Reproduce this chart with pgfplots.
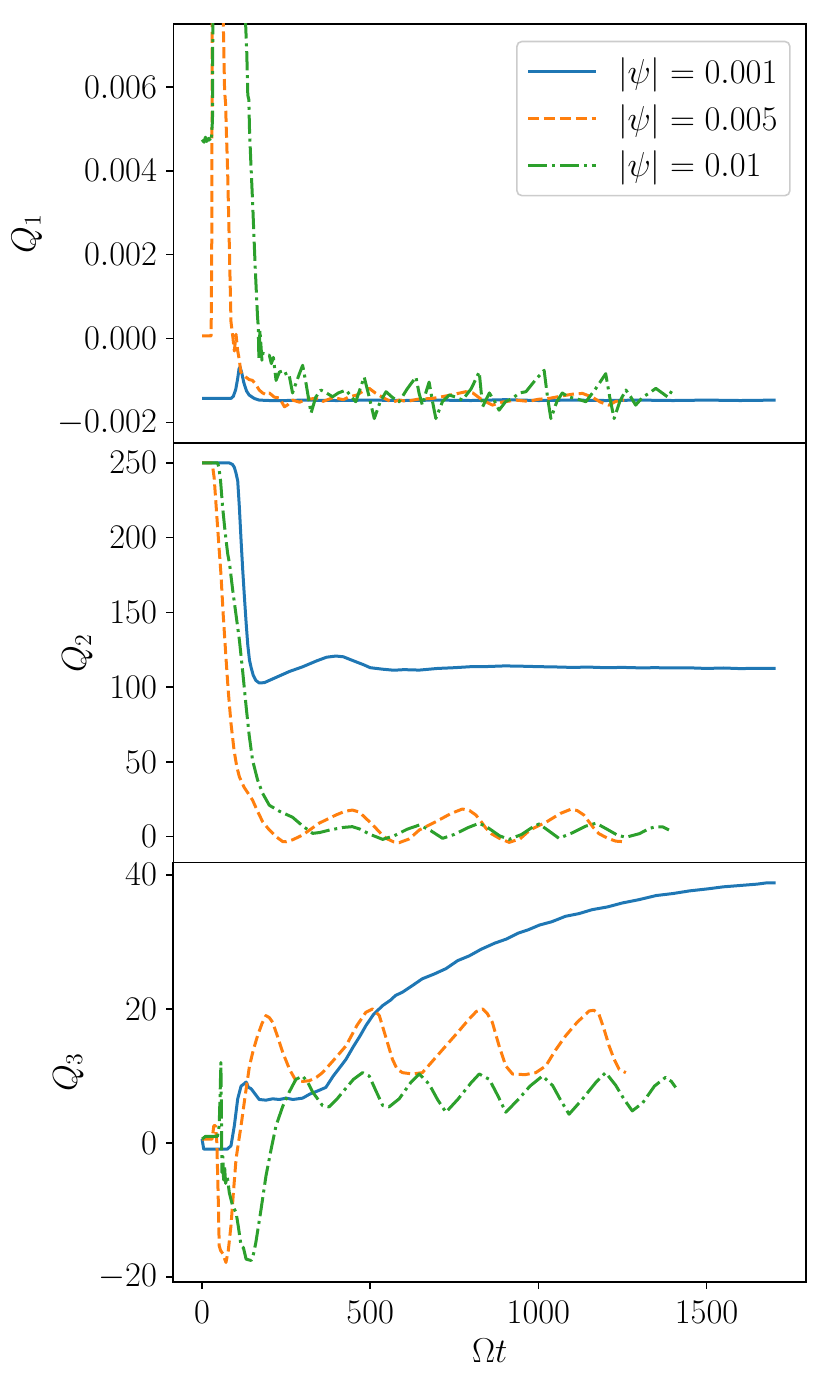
\documentclass[border=0pt]{standalone}
\usepackage{pgfplots}
\pgfplotsset{compat=1.18}
\definecolor{tabblue}{HTML}{1F77B4}
\definecolor{taborange}{HTML}{FF7F0E}
\definecolor{tabgreen}{HTML}{2CA02C}
\pgfplotsset{
  panel/.style={
    scale only axis, width=316.35pt, height=209.65pt,
    xmin=-85.5, xmax=1795.5,
    axis line style={line width=0.8pt},
    every tick/.style={line width=0.8pt, black},
    major tick length=3.5pt, tick align=outside,
    ytick pos=left, xtick pos=bottom,
    ticklabel style={font=\fontsize{16}{19}\selectfont},
    yticklabel style={anchor=east, inner xsep=0pt, xshift=-4.5pt},
    xticklabel style={anchor=base, yshift=-17.5pt, /pgf/number format/set thousands separator={}},
    scaled y ticks=false,
    every axis plot/.append style={line width=1.5pt, line join=round},
    every axis x label/.style={at={(axis description cs:0.5,0)}, anchor=base, yshift=-40.5pt, font=\fontsize{18}{22}\selectfont},
  },
  s1/.style={tabblue, solid},
  s2/.style={taborange, dash pattern=on 5.55pt off 2.4pt},
  s3/.style={tabgreen, dash pattern=on 9.6pt off 2.4pt on 1.5pt off 2.4pt},
}
\begin{document}
\begin{tikzpicture}
\useasboundingbox (0,0) rectangle (415.5pt,693.5pt);
% ---------------- Q1 ----------------
\begin{axis}[panel, at={(86.65pt,471.85pt)}, anchor=south west,
  ymin=-0.0025, ymax=0.0075, xtick=\empty,
  ytick={-0.002,0,0.002,0.004,0.006},
  yticklabel style={/pgf/number format/.cd, fixed, fixed zerofill, precision=3},
  every axis y label/.style={at={(axis description cs:-0.2312,0.5)}, rotate=90, anchor=center, font=\fontsize{18}{22}\selectfont},
  ylabel={$Q_1$},
  legend style={at={(1,1)}, anchor=north east, xshift=-7.65pt, yshift=-8.35pt,
    draw=black!20, line width=0.8pt, rounded corners=2.5pt, fill=white,
    font=\fontsize{16}{19}\selectfont, inner xsep=0.75pt, inner ysep=5pt,
    row sep=2.85pt, nodes={inner xsep=5.5pt, inner ysep=3pt}},
  legend cell align=left,
  legend image code/.code={\path (0pt,0pt); \draw[#1, line width=1.5pt] (4.1pt,0pt) -- (38.1pt,0pt); \path (42.85pt,0pt);},
]
\addplot[s1] coordinates {(0,-0.00143)(40,-0.00143)(86,-0.00143)(93,-0.00138)(100,-0.00122)(106,-0.00095)(110,-0.00072)(113,-0.00068)(118,-0.00082)(124,-0.00105)(132,-0.00125)(140,-0.00135)(155,-0.00143)(170,-0.00147)(200,-0.00148)(250,-0.00148)(300,-0.00147)(400,-0.00148)(500,-0.00147)(600,-0.00148)(700,-0.00147)(800,-0.00148)(900,-0.00146)(1000,-0.00148)(1100,-0.00147)(1200,-0.00148)(1300,-0.00147)(1400,-0.00148)(1500,-0.00147)(1600,-0.00148)(1705,-0.00147)};
\addlegendentry{$|\psi| = 0.001$}
\addplot[s2] coordinates {(0,0.00006)(27,0.00006)(29,0.0025)(31,0.012)(60,0.012)(63,0.0076)(67,0.0059)(70,0.0056)(72,0.0050)(76,0.0040)(80,0.0026)(86,0.0004)(92,0.0)(96,-0.0003)(101,0.0001)(106,-0.0003)(111,-0.00052)(115,-0.0008)(122,-0.00085)(130,-0.00092)(140,-0.00098)(150,-0.001)(160,-0.0011)(170,-0.00123)(180,-0.0013)(190,-0.00134)(200,-0.0013)(215,-0.0014)(230,-0.00142)(245,-0.00163)(255,-0.00158)(269,-0.00147)(290,-0.00152)(310,-0.00145)(339,-0.00143)(360,-0.0015)(390,-0.00141)(420,-0.00146)(438,-0.00139)(460,-0.00135)(480,-0.00125)(497,-0.00119)(515,-0.0013)(540,-0.00142)(565,-0.00152)(586,-0.00147)(610,-0.0015)(640,-0.00145)(685,-0.00143)(720,-0.00138)(750,-0.00133)(784,-0.00127)(805,-0.0013)(830,-0.00145)(863,-0.00159)(890,-0.00152)(933,-0.00147)(970,-0.0015)(1000,-0.00145)(1032,-0.00143)(1070,-0.00137)(1100,-0.00133)(1131,-0.00131)(1160,-0.0014)(1185,-0.00152)(1210,-0.00159)(1230,-0.0015)(1255,-0.00147)};
\addlegendentry{$|\psi| = 0.005$}
\addplot[s3] coordinates {(0,0.00474)(6,0.00468)(10,0.00480)(14,0.00470)(20,0.00477)(27,0.00470)(31,0.0052)(34,0.012)(124,0.012)(129,0.0076)(133,0.0068)(136,0.0058)(139,0.0057)(141,0.0050)(145,0.0042)(150,0.0033)(154,0.0025)(158,0.0017)(162,0.0010)(165,0.0005)(167,0.0003)(169,-0.0005)(172,0.0002)(178,-0.00052)(181,-0.00035)(190,-0.0004)(200,-0.0004)(206,-0.0006)(212,-0.00045)(220,-0.001)(230,-0.0008)(245,-0.00076)(252,-0.0009)(259,-0.00088)(269,-0.0013)(279,-0.00107)(289,-0.00085)(299,-0.00064)(309,-0.00107)(324,-0.00178)(338,-0.0014)(353,-0.00123)(370,-0.0013)(388,-0.00139)(405,-0.0013)(428,-0.00123)(445,-0.0014)(457,-0.00151)(470,-0.0012)(482,-0.00092)(497,-0.0014)(512,-0.00191)(530,-0.0015)(547,-0.00127)(565,-0.0014)(586,-0.00151)(610,-0.0012)(636,-0.00092)(645,-0.0013)(655,-0.00159)(665,-0.0013)(675,-0.00104)(685,-0.0015)(695,-0.00191)(715,-0.0015)(735,-0.00135)(755,-0.0014)(774,-0.00147)(800,-0.0012)(824,-0.0008)(834,-0.00163)(854,-0.0013)(870,-0.0015)(883,-0.00171)(903,-0.0015)(923,-0.00143)(943,-0.0013)(963,-0.00127)(990,-0.001)(1017,-0.00076)(1027,-0.0014)(1037,-0.00191)(1055,-0.0015)(1071,-0.0013)(1090,-0.0014)(1111,-0.00143)(1141,-0.00151)(1170,-0.0012)(1200,-0.00084)(1212,-0.0014)(1225,-0.00191)(1242,-0.0015)(1260,-0.00123)(1275,-0.0014)(1289,-0.00159)(1310,-0.0014)(1330,-0.0013)(1349,-0.00119)(1368,-0.0013)(1385,-0.0014)(1398,-0.00123)};
\addlegendentry{$|\psi| = 0.01$}
\end{axis}
% ---------------- Q2 ----------------
\begin{axis}[panel, at={(86.65pt,262.15pt)}, anchor=south west,
  ymin=-17.4, ymax=263, xtick=\empty,
  ytick={0,50,100,150,200,250},
  every axis y label/.style={at={(axis description cs:-0.1514,0.5)}, rotate=90, anchor=center, font=\fontsize{18}{22}\selectfont},
  ylabel={$Q_2$},
]
\addplot[s1] coordinates {(0,250)(60,250)(80,250)(90,249)(96,247)(101,243)(106,238)(111,220)(116,198)(121,178)(126,160)(131,143)(136,128)(141,118)(146,113)(152,108)(160,104.5)(170,102.8)(185,103)(200,104.5)(230,107.5)(260,110.5)(299,113.6)(340,117.5)(370,120)(398,120.8)(420,120.3)(440,118.5)(457,117)(480,115)(500,113)(537,112)(570,111.3)(600,111.7)(646,111.4)(700,112.5)(750,113)(800,113.7)(850,113.8)(900,114.2)(950,114)(1000,113.7)(1050,113.5)(1100,113.2)(1150,113.4)(1200,113)(1250,113.2)(1300,112.9)(1350,113)(1400,112.8)(1450,112.9)(1500,112.5)(1550,112.8)(1600,112.4)(1650,112.6)(1705,112.5)};
\addplot[s2] coordinates {(0,250)(30,250)(36,240)(42,220.6)(49,198)(56,176)(63,148)(71,120)(78,97)(86,75.8)(95,58)(103,47)(111,40)(125,33)(140,28)(150,24.5)(165,17)(180,10)(200,4.5)(220,0)(240,-3.3)(250,-3.4)(270,-2)(299,1.1)(323,5)(348,9)(398,14.5)(425,17)(447,17.8)(467,16.5)(487,12.3)(502,9)(517,5.6)(532,2)(547,-1.1)(570,-3.5)(586,-4)(616,-1.5)(646,4.5)(695,10)(740,15.5)(774,18.5)(795,17.5)(814,14.5)(830,10)(844,5.6)(860,2)(883,-1)(913,-3.8)(945,-1.5)(975,4.5)(1025,10)(1065,15.5)(1096,18.3)(1115,17.5)(1135,14.5)(1150,10)(1165,5.6)(1180,2)(1205,-1)(1230,-3)(1250,-3.3)(1256,-2)};
\addplot[s3] coordinates {(0,250)(46,250)(50,247)(55,238)(61,220.6)(68,205)(76,189.5)(82,182)(91,165)(100,150)(111,131.5)(121,110)(131,87)(140,68)(150,51.3)(165,38)(180,29)(200,21)(230,17)(269,13)(300,7)(329,2.2)(350,2.8)(380,4.5)(420,6.2)(447,6.7)(470,5)(500,1.5)(537,-1.8)(570,0.5)(610,5)(646,7.8)(680,4)(715,-1.1)(750,1.5)(790,6)(824,9)(850,6)(885,0.5)(913,-1.8)(950,1.5)(980,6)(1002,8.5)(1030,4)(1061,-1.1)(1100,2.5)(1140,7)(1171,9)(1200,5.5)(1235,1)(1260,-0.4)(1300,2)(1330,5.5)(1349,6.7)(1370,6.5)(1388,4.5)};
\end{axis}
% ---------------- Q3 ----------------
\begin{axis}[panel, at={(86.65pt,52.65pt)}, anchor=south west,
  ymin=-20.66, ymax=41.84,
  xtick={0,500,1000,1500},
  ytick={-20,0,20,40},
  every axis y label/.style={at={(axis description cs:-0.1656,0.5)}, rotate=90, anchor=center, font=\fontsize{18}{22}\selectfont},
  ylabel={$Q_3$}, xlabel={$\Omega t$},
]
\addplot[s1] coordinates {(0,0.6)(5,-0.9)(40,-0.9)(75,-0.9)(86,-0.4)(96,2.6)(106,6.6)(116,8.5)(124,8.8)(131,9.1)(138,8.3)(146,8.1)(158,7.3)(170,6.5)(190,6.4)(210,6.6)(230,6.5)(250,6.7)(270,6.5)(299,6.7)(320,7.3)(345,7.8)(368,8.3)(390,10)(410,11.3)(428,12.5)(450,14.4)(470,16)(487,17.5)(510,19.2)(537,20.5)(560,21.3)(575,22)(596,22.5)(620,23.3)(655,24.5)(690,25.2)(725,26)(760,27.2)(794,27.9)(830,28.9)(870,29.8)(904,30.4)(940,31.3)(970,31.8)(1003,32.5)(1040,33)(1080,33.8)(1120,34.2)(1160,34.8)(1205,35.2)(1250,35.8)(1300,36.3)(1350,36.9)(1400,37.2)(1450,37.6)(1504,37.9)(1550,38.2)(1600,38.4)(1650,38.6)(1680,38.8)(1705,38.8)};
\addplot[s2] coordinates {(0,0.6)(30,0.6)(35,2.6)(40,2.6)(44,0)(48,-8)(51,-15.3)(55,-16)(62,-16.5)(71,-17.8)(78,-16)(86,-12.3)(93,-7.5)(101,-2.4)(108,0)(116,2.6)(128,7)(141,11.5)(152,13.8)(165,16)(178,17.8)(190,19)(200,18.7)(210,18)(225,15.8)(240,13.5)(260,11)(279,9.3)(300,9.2)(319,9.3)(340,9.8)(358,10.5)(390,12.3)(428,14.5)(460,17.5)(487,19.5)(507,20)(527,19)(545,16)(566,12.5)(580,11)(596,10.5)(625,10.3)(655,10.5)(690,12.5)(725,14.5)(760,16.5)(794,18.5)(815,19.6)(834,20)(848,19.3)(863,18)(883,14.5)(903,11.5)(923,10.3)(960,10.2)(992,10.5)(1022,11.5)(1050,13.8)(1081,16)(1115,18)(1151,19.7)(1165,19.8)(1180,19.2)(1195,17)(1210,14.5)(1225,12.5)(1240,11)(1260,10.5)};
\addplot[s3] coordinates {(0,0.6)(10,1.0)(46,1.0)(51,2.6)(54,8)(56,12)(58,2)(59,-4.4)(62,-2)(64,-5.5)(67,-3.5)(70,-6)(75,-5)(81,-7.4)(91,-9.4)(101,-10.3)(108,-12.5)(116,-15.3)(123,-15.6)(131,-17.3)(146,-17.5)(153,-16.5)(160,-14.8)(175,-10)(190,-4.9)(205,-1)(220,2.6)(240,5.5)(259,7.6)(279,9.5)(299,10)(315,9)(329,7.6)(358,5.6)(378,5.4)(400,6.5)(418,7.6)(450,9.5)(477,10.5)(497,10)(515,8)(537,5.6)(556,5.4)(586,6.6)(620,9)(646,10.3)(675,8.8)(700,6.5)(725,4.6)(760,6.5)(800,9)(824,10.3)(854,9.5)(880,7)(903,4.6)(940,6.5)(975,8.5)(1012,10)(1042,8.6)(1065,6.5)(1091,4.3)(1130,6.5)(1170,9)(1200,10.5)(1230,8.6)(1255,6.5)(1279,4.8)(1310,6)(1345,8.5)(1378,9.8)(1395,9.2)(1408,8.3)};
\end{axis}
\end{tikzpicture}
\end{document}
